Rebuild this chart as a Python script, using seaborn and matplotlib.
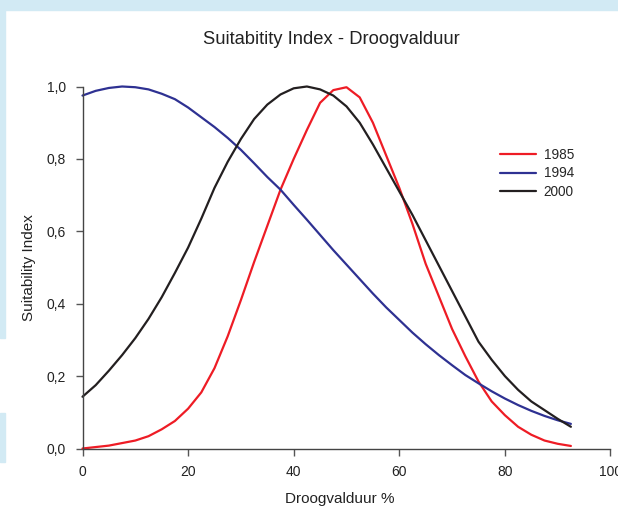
import matplotlib

matplotlib.use("Agg")
import matplotlib.pyplot as plt
import matplotlib.patches as mpatches
import pandas as pd
import seaborn as sns

# Droogvalduur (%) sample positions
droogvalduur = [0, 2.5, 5, 7.5, 10, 12.5, 15, 17.5, 20, 22.5, 25, 27.5, 30, 32.5,
                35, 37.5, 40, 42.5, 45, 47.5, 50, 52.5, 55, 57.5, 60, 62.5, 65,
                67.5, 70, 72.5, 75, 77.5, 80, 82.5, 85, 87.5, 90, 92.5]

si_1985 = [0.0, 0.004, 0.008, 0.015, 0.022, 0.034, 0.053, 0.076, 0.11, 0.155,
           0.222, 0.31, 0.41, 0.515, 0.615, 0.715, 0.80, 0.88, 0.955, 0.99,
           0.998, 0.97, 0.90, 0.81, 0.72, 0.62, 0.51, 0.42, 0.33, 0.255,
           0.185, 0.13, 0.092, 0.06, 0.038, 0.022, 0.013, 0.007]

si_1994 = [0.975, 0.988, 0.996, 1.0, 0.998, 0.992, 0.98, 0.965, 0.942, 0.915,
           0.888, 0.858, 0.825, 0.788, 0.75, 0.715, 0.673, 0.632, 0.59, 0.548,
           0.508, 0.468, 0.428, 0.39, 0.355, 0.32, 0.288, 0.258, 0.23, 0.203,
           0.18, 0.158, 0.138, 0.12, 0.104, 0.09, 0.078, 0.068]

si_2000 = [0.143, 0.175, 0.215, 0.258, 0.305, 0.358, 0.418, 0.485, 0.555, 0.635,
           0.72, 0.792, 0.855, 0.91, 0.95, 0.978, 0.995, 1.0, 0.992, 0.975,
           0.945, 0.90, 0.84, 0.775, 0.71, 0.645, 0.575, 0.505, 0.435, 0.365,
           0.295, 0.245, 0.2, 0.162, 0.13, 0.106, 0.082, 0.06]

years = ["1985", "1994", "2000"]
colors = ["#ee1c25", "#2e3192", "#231f20"]

x_ticks = [0, 20, 40, 60, 80, 100]
y_ticks = [0.0, 0.2, 0.4, 0.6, 0.8, 1.0]

df = pd.concat([
    pd.DataFrame({"x": droogvalduur, "si": vals, "jaar": yr})
    for yr, vals in zip(years, [si_1985, si_1994, si_2000])
])

sns.set_theme(style="ticks")
plt.rcParams["font.family"] = ["Liberation Sans", "DejaVu Sans"]

fig = plt.figure(figsize=(6.18, 5.11), dpi=100)
fig.patch.set_facecolor("white")

# light blue page border fragments
bg = "#d2eaf4"
fig.patches.append(mpatches.Rectangle((0, 1 - 10 / 511), 1, 10 / 511,
                                      transform=fig.transFigure, color=bg, zorder=0))
fig.patches.append(mpatches.Rectangle((0, 173 / 511), 4.5 / 618, 338 / 511,
                                      transform=fig.transFigure, color=bg, zorder=0))
fig.patches.append(mpatches.Rectangle((0, 49 / 511), 4.5 / 618, 49 / 511,
                                      transform=fig.transFigure, color=bg, zorder=0))

ax = fig.add_axes([82.5 / 618, 62.5 / 511, 528 / 618, 362 / 511])
sns.lineplot(data=df, x="x", y="si", hue="jaar", palette=dict(zip(years, colors)),
             linewidth=1.6, ax=ax, legend=True)
for line in ax.lines:
    line.set_clip_on(False)
    line.set_solid_joinstyle("round")

ax.set_xlim(0, 100)
ax.set_ylim(0, 1.0)
ax.set_xticks(x_ticks)
ax.set_xticklabels([str(t) for t in x_ticks])
ax.set_yticks(y_ticks)
ax.set_yticklabels([f"{t:.1f}".replace(".", ",") for t in y_ticks])
ax.tick_params(axis="both", direction="out", length=5, width=1, color="#555555",
               labelsize=10, labelcolor="#222222", pad=7)
for side in ["left", "bottom"]:
    ax.spines[side].set_color("#444444")
    ax.spines[side].set_linewidth(1)
sns.despine(ax=ax)

ax.set_xlabel("Droogvalduur %", fontsize=11, color="#222222")
ax.set_ylabel("Suitability Index", fontsize=11, color="#222222")
ax.xaxis.set_label_coords(0.4877, -0.12)
ax.yaxis.set_label_coords(-0.088, 0.5)

fig.text(331 / 618, 1 - 40 / 511, "Suitabitity Index - Droogvalduur",
         ha="center", va="center", fontsize=13.2, color="#222222")

ax.legend(title=None, frameon=False, loc="upper left",
          bbox_to_anchor=(0.791, 0.83), borderaxespad=0, borderpad=0,
          handlelength=2.6, handletextpad=0.6, labelspacing=0.32, fontsize=9.8)

fig.savefig("out.png", dpi=100)
